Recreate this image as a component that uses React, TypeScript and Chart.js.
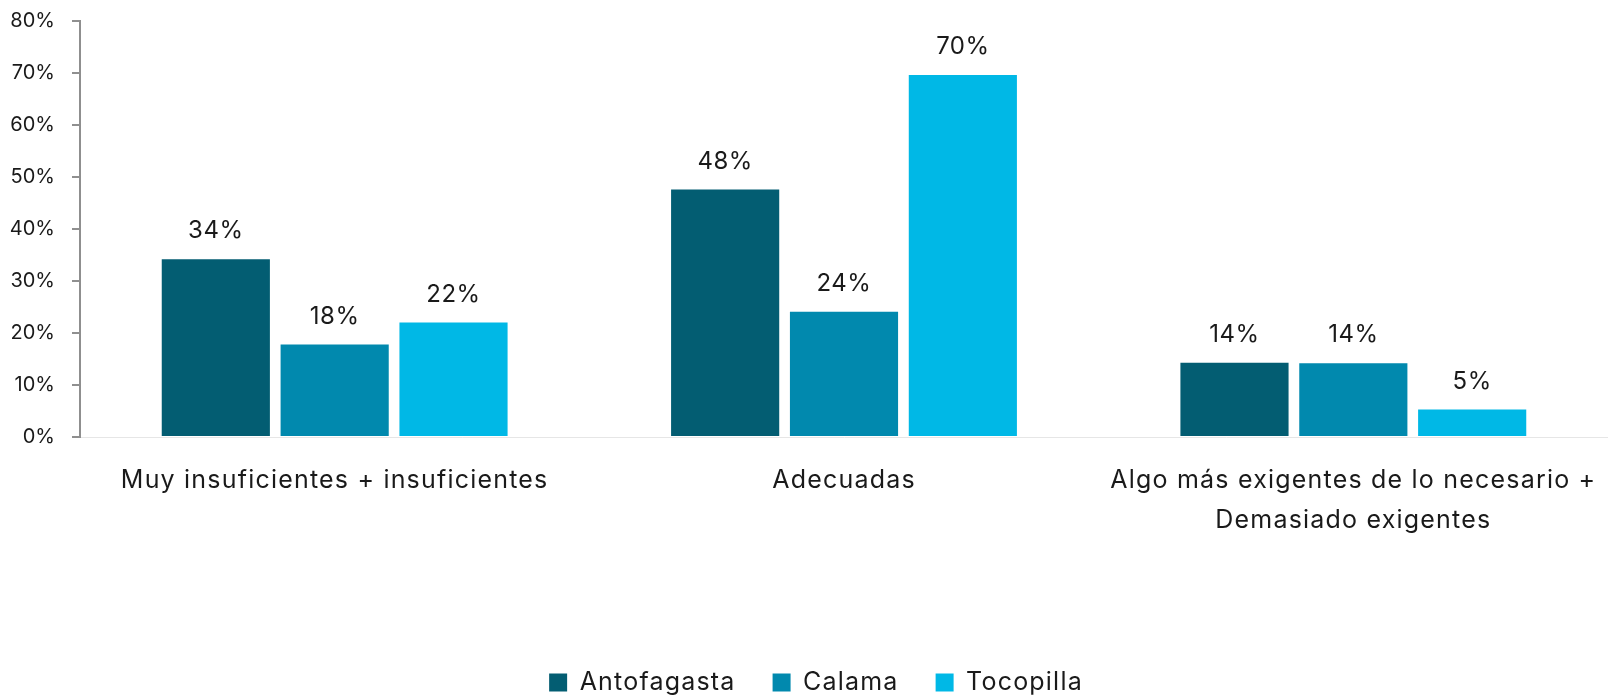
import React, { useEffect, useRef } from "react";
import { Chart, registerables, LinearScale } from "chart.js";

Chart.register(...registerables);

class PlainLinearScale extends LinearScale {
  static id = "plainLinear";
  static defaults = LinearScale.defaults;
  drawLabels(area: any) {
    const ctx = (this as any).ctx;
    ctx.save();
    ctx.letterSpacing = "0px";
    super.drawLabels(area);
    ctx.restore();
  }
}
Chart.register(PlainLinearScale);

const categories: (string | string[])[] = [
  "Muy insuficientes + insuficientes",
  "Adecuadas",
  ["Algo más exigentes de lo necesario +", "Demasiado exigentes"],
];
const seriesNames = ["Antofagasta", "Calama", "Tocopilla"];
const antofagasta = [34.2, 47.6, 14.3];
const calama = [17.8, 24.1, 14.2];
const tocopilla = [22.0, 69.6, 5.3];
const yTicks = [0, 10, 20, 30, 40, 50, 60, 70, 80];
const colors = ["#035d72", "#0189ae", "#00b8e6"];

const FONT = "Inter, 'Noto Sans', sans-serif";
const TEXT = "#1a1a1a";
const SPACING = "1.2px";

const spacingPlugin = {
  id: "spacing",
  beforeLayout(chart: any) {
    chart.ctx.letterSpacing = SPACING;
  },
  afterLayout(chart: any) {
    if (chart.legend) {
      chart.legend.left += 24;
    }
  },
  beforeDraw(chart: any) {
    chart.ctx.letterSpacing = SPACING;
  },
};

const valueLabels = {
  id: "valueLabels",
  afterDatasetsDraw(chart: any) {
    const ctx = chart.ctx;
    ctx.save();
    ctx.letterSpacing = "0.5px";
    ctx.font = `24px ${FONT}`;
    ctx.fillStyle = TEXT;
    ctx.textAlign = "center";
    ctx.textBaseline = "middle";
    chart.data.datasets.forEach((ds: any, i: number) => {
      const meta = chart.getDatasetMeta(i);
      meta.data.forEach((el: any, j: number) => {
        const v = ds.data[j];
        ctx.fillText(Math.round(v) + "%", el.x, el.y - 28);
      });
    });
    ctx.restore();
  },
};

export default function App() {
  const ref = useRef<HTMLCanvasElement>(null);
  useEffect(() => {
    document.body.style.margin = "0";
    const chart = new Chart(ref.current!, {
      type: "bar",
      data: {
        labels: categories,
        datasets: [antofagasta, calama, tocopilla].map((d, i) => ({
          label: seriesNames[i],
          data: d,
          backgroundColor: colors[i],
          barPercentage: 0.91,
          categoryPercentage: 0.7,
        })),
      },
      options: {
        responsive: false,
        animation: false,
        layout: { padding: { top: 21, left: 0, right: 0, bottom: 0 } },
        plugins: {
          legend: {
            position: "bottom",
            labels: {
              boxWidth: 18,
              boxHeight: 18,
              padding: 37,
              color: TEXT,
              font: { family: FONT, size: 25 },
            },
          },
          tooltip: { enabled: false },
        },
        scales: {
          x: {
            grid: { display: false, drawTicks: false },
            border: { display: true, color: "#e6e6e6", width: 1 },
            ticks: {
              color: TEXT,
              padding: 23,
              maxRotation: 0,
              autoSkip: false,
              font: { family: FONT, size: 25, lineHeight: 1.6 },
            },
            afterFit: (s: any) => {
              s.height = 196;
              s.paddingLeft = 0;
              s.paddingRight = 0;
            },
          },
          y: {
            type: "plainLinear",
            min: 0,
            max: 80,
            afterBuildTicks: (s: any) => {
              s.ticks = yTicks.map((v) => ({ value: v }));
            },
            grid: {
              drawOnChartArea: false,
              drawTicks: true,
              tickLength: 8,
              color: "#8f8f8f",
              lineWidth: 2,
            },
            border: { display: true, color: "#8f8f8f", width: 2 },
            ticks: {
              color: TEXT,
              padding: 17,
              font: { family: FONT, size: 20 },
              callback: (v: any) => v + "%",
            },
            afterFit: (s: any) => {
              s.width = 80;
              s.paddingTop = 0;
              s.paddingBottom = 0;
            },
          },
        } as any,
      },
      plugins: [spacingPlugin, valueLabels],
    });
    return () => chart.destroy();
  }, []);
  return (
    <div style={{ position: "fixed", left: 0, top: 0, width: 1608, height: 697, overflow: "hidden", background: "#fff" }}>
      <canvas ref={ref} width={1608} height={705} />
    </div>
  );
}
